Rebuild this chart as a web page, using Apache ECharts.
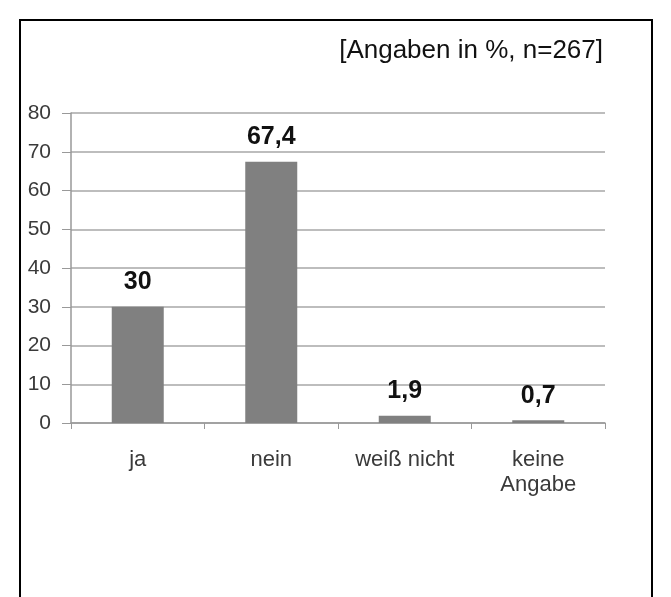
<!DOCTYPE html>
<html>
<head>
<meta charset="utf-8">
<script src="https://cdn.jsdelivr.net/npm/echarts@6/dist/echarts.min.js"></script>
<style>
  html, body { margin: 0; padding: 0; background: #fff; }
  #chart { width: 671px; height: 597px; }
</style>
</head>
<body>
<div id="chart"></div>
<script>
// Antworten und Anteile in %
const categories = ["ja", "nein", "weiß nicht", "keine\nAngabe"];
const values = [30, 67.4, 1.9, 0.7];
const yTicks = [0, 10, 20, 30, 40, 50, 60, 70, 80];

const chart = echarts.init(document.getElementById("chart"));

const option = {
  animation: false,
  backgroundColor: "#fff",
  title: {
    text: "[Angaben in %, n=267]",
    right: 63,
    top: 33,
    textStyle: {
      fontFamily: "Liberation Sans",
      fontSize: 26,
      fontWeight: "normal",
      color: "#111",
    },
  },
  graphic: [
    {
      type: "rect",
      shape: { x: 20, y: 20, width: 632, height: 620 },
      style: { fill: "none", stroke: "#000", lineWidth: 2 },
      silent: true,
    },
  ],
  grid: {
    left: 71,
    right: 66,
    top: 113,
    bottom: 174,
  },
  xAxis: {
    type: "category",
    data: categories,
    axisLine: { lineStyle: { color: "#999", width: 1.5 } },
    axisTick: { show: true, length: 6, lineStyle: { color: "#999" } },
    axisLabel: {
      fontFamily: "Liberation Sans",
      fontSize: 22,
      color: "#3a3a3a",
      margin: 24,
      lineHeight: 25,
    },
  },
  yAxis: {
    type: "value",
    min: yTicks[0],
    max: yTicks[yTicks.length - 1],
    interval: 10,
    axisLine: { show: true, lineStyle: { color: "#999", width: 1.5 } },
    axisTick: { show: true, length: 9, lineStyle: { color: "#999" } },
    axisLabel: {
      fontFamily: "Liberation Sans",
      fontSize: 21,
      color: "#3a3a3a",
      margin: 20,
    },
    splitLine: { lineStyle: { color: "#bdbdbd", width: 2 } },
  },
  series: [
    {
      type: "bar",
      data: values,
      barWidth: 52,
      itemStyle: { color: "#808080" },
      label: {
        show: true,
        position: "top",
        distance: 12,
        fontFamily: "Liberation Sans",
        fontSize: 25,
        fontWeight: "bold",
        color: "#111",
        formatter: (p) => String(p.value).replace(".", ","),
      },
    },
  ],
};

chart.setOption(option);
</script>
</body>
</html>
